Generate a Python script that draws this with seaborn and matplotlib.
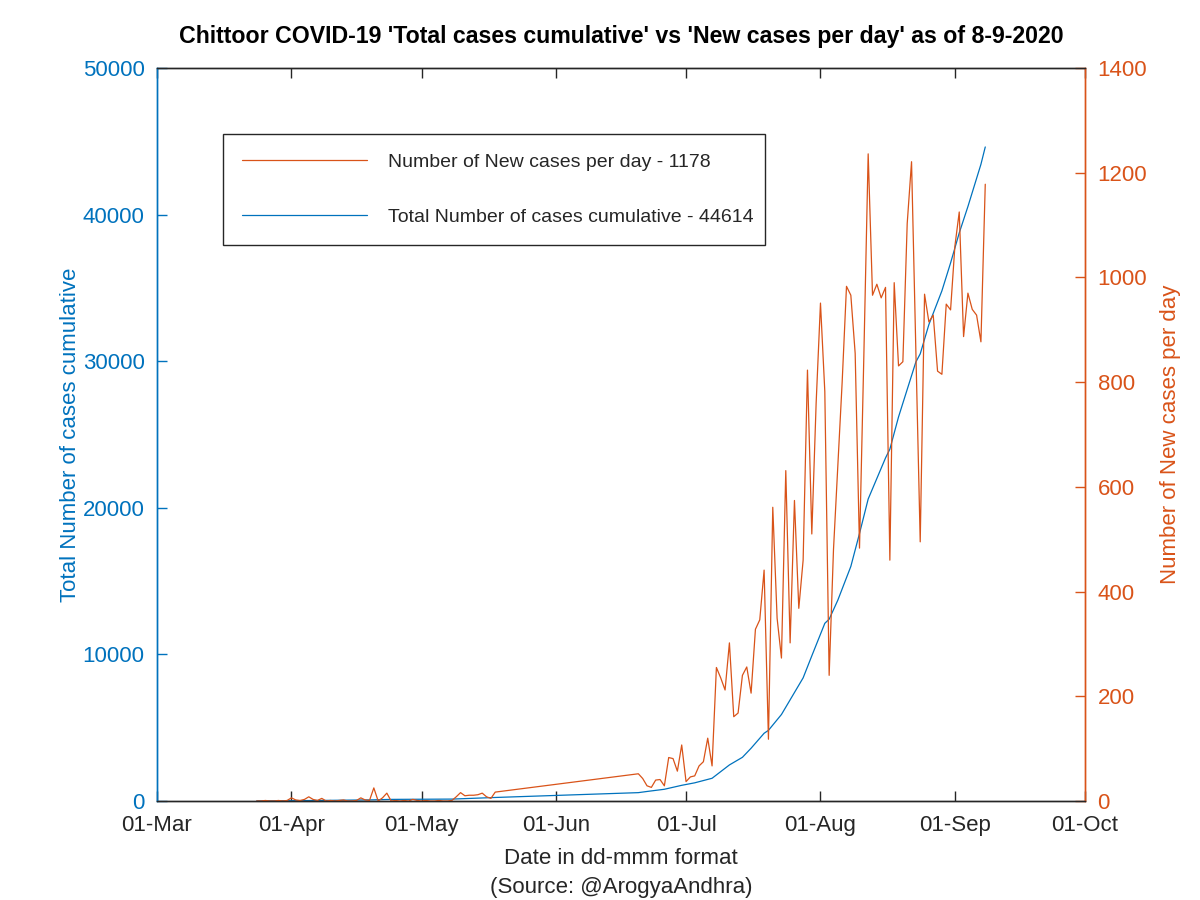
import numpy as np
import pandas as pd
import matplotlib
matplotlib.use("Agg")
import matplotlib.pyplot as plt
import matplotlib.dates as mdates
import seaborn as sns

# ---------------- data ----------------
# New cases per day: daily 24-Mar .. 18-May, then daily 20-Jun .. 08-Sep
new_early_start = "2020-03-24"
new_early = [0, 0, 1, 0, 0, 1, 0, 1, 6, 2, 1, 3, 8, 3, 1, 5, 0, 1, 0, 1,
             2, 0, 0, 1, 6, 2, 1, 25, 0, 6, 15, 0, 1, 0, 1, 0, 3, 1, 0, 1,
             0, 0, 1, 0, 0, 1, 8, 16, 10, 11, 11, 12, 15, 8, 5, 17]
new_late_start = "2020-06-20"
new_late = [52, 43, 29, 26, 40, 41, 29, 83, 81, 57, 107, 37, 46, 48, 67, 75, 120, 67,
            255, 235, 212, 302, 161, 168, 240, 256, 206, 328, 346, 441, 118, 561,
            349, 273, 631, 302, 574, 368, 460, 823, 510, 760, 951, 782, 240, 480,
            640, 800, 983, 966, 855, 483, 850, 1236, 966, 987, 961, 981, 460, 990,
            831, 839, 1103, 1221, 860, 495, 968, 915, 928, 821, 815, 949, 938, 1060,
            1125, 887, 970, 939, 928, 877, 1178]

# Cumulative total cases (read at selected dates)
cum_dates = ["2020-03-24", "2020-04-01", "2020-04-10", "2020-04-20", "2020-04-24",
             "2020-05-08", "2020-05-18", "2020-06-20", "2020-06-22", "2020-06-26",
             "2020-06-30", "2020-07-03", "2020-07-07", "2020-07-11", "2020-07-14",
             "2020-07-16", "2020-07-19", "2020-07-20", "2020-07-23", "2020-07-25",
             "2020-07-28", "2020-07-30", "2020-08-02", "2020-08-03", "2020-08-05",
             "2020-08-08", "2020-08-10", "2020-08-12", "2020-08-16", "2020-08-17",
             "2020-08-19", "2020-08-23", "2020-08-24", "2020-08-26", "2020-08-29",
             "2020-08-31", "2020-09-02", "2020-09-04", "2020-09-07", "2020-09-08"]
cum_values = [5, 20, 45, 80, 110, 130, 240, 570, 650, 800,
              1070, 1240, 1550, 2460, 2980, 3600, 4620, 4820, 5900, 6900,
              8400, 9900, 12120, 12400, 13700, 16000, 18250, 20600, 23400, 24000,
              26200, 29950, 30500, 32500, 34800, 36700, 38750, 40550, 43430, 44614]

new_label = "Number of New cases per day - 1178"
cum_label = "Total Number of cases cumulative - 44614"
title = "Chittoor COVID-19 'Total cases cumulative' vs 'New cases per day' as of 8-9-2020"
month_ticks = ["2020-03-01", "2020-04-01", "2020-05-01", "2020-06-01",
               "2020-07-01", "2020-08-01", "2020-09-01", "2020-10-01"]

# ---------------- build frames ----------------
new_df = pd.concat([
    pd.DataFrame({"date": pd.date_range(new_early_start, periods=len(new_early), freq="D"),
                  "cases": new_early}),
    pd.DataFrame({"date": pd.date_range(new_late_start, periods=len(new_late), freq="D"),
                  "cases": new_late}),
], ignore_index=True)
cum_df = pd.DataFrame({"date": pd.to_datetime(cum_dates), "total": cum_values})

BLUE = "#0072BD"
ORANGE = "#D95319"
DARK = "#262626"

sns.set_style("white")
plt.rcParams["font.family"] = ["Liberation Sans", "DejaVu Sans"]

fig = plt.figure(figsize=(12, 9), dpi=100)
ax = fig.add_axes([157/1200, 1-801/900, (1085-157)/1200, (801-68)/900])
ax2 = ax.twinx()

sns.lineplot(data=cum_df, x="date", y="total", ax=ax, color=BLUE, linewidth=0.9,
             label=cum_label, legend=False)
sns.lineplot(data=new_df, x="date", y="cases", ax=ax2, color=ORANGE, linewidth=0.9,
             label=new_label, legend=False, estimator=None, sort=False)

xt = pd.to_datetime(month_ticks)
ax.set_xlim(xt[0], xt[-1])
ax.set_xticks(xt)
ax.xaxis.set_major_formatter(mdates.DateFormatter("%d-%b"))
ax.set_ylim(0, 50000)
ax.set_yticks(np.arange(0, 50001, 10000))
ax2.set_ylim(0, 1400)
ax2.set_yticks(np.arange(0, 1401, 200))

ax.tick_params(axis="x", direction="in", length=7, width=1, colors=DARK,
               labelsize=16, pad=10, top=True, bottom=True)
ax.tick_params(axis="y", direction="in", length=7, width=1, colors=BLUE,
               labelsize=16, pad=9)
ax2.tick_params(axis="y", direction="in", length=7, width=1, colors=ORANGE,
                labelsize=16, pad=9)

for a in (ax, ax2):
    a.spines["top"].set_color(DARK)
    a.spines["bottom"].set_color(DARK)
    a.spines["left"].set_color(BLUE)
    a.spines["right"].set_color(ORANGE)
    for s in a.spines.values():
        s.set_linewidth(1.0)

ax.set_xlabel("Date in dd-mmm format\n(Source: @ArogyaAndhra)", fontsize=16,
              color=DARK, labelpad=9, linespacing=1.45)
ax.set_ylabel("Total Number of cases cumulative", fontsize=16, color=BLUE, labelpad=1)
ax2.set_ylabel("Number of New cases per day", fontsize=16, color=ORANGE, labelpad=9)
ax2.set_xlabel("")
ax.set_title(title, fontsize=16.7, fontweight="bold", color="black", pad=18)

h1, l1 = ax.get_legend_handles_labels()
h2, l2 = ax2.get_legend_handles_labels()
leg = ax2.legend(h2 + h1, l2 + l1, loc="upper left",
                 bbox_to_anchor=((223-157)/928, (801-134)/733, (765-223)/928, 0.0),
                 mode="expand", fontsize=14, frameon=True, fancybox=False,
                 edgecolor=DARK, handlelength=6.4, handletextpad=1.1,
                 labelspacing=1.9, borderpad=1.0, borderaxespad=0.0)
leg.get_frame().set_linewidth(1.0)
leg.get_frame().set_facecolor("white")
leg.get_frame().set_alpha(1.0)

fig.savefig("out.png", dpi=100, facecolor="white")
